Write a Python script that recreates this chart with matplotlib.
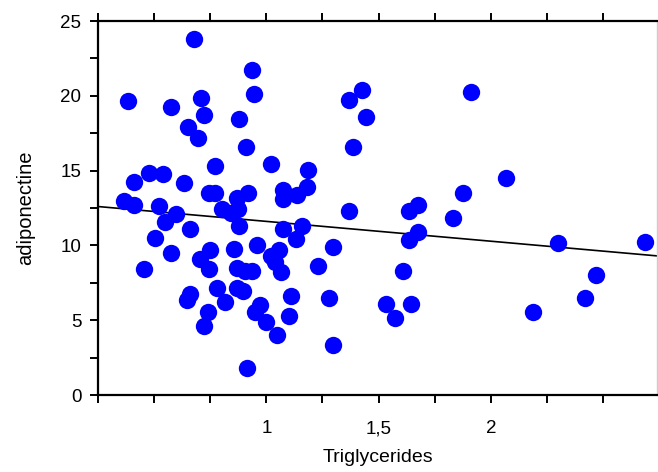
import numpy as np
import matplotlib
matplotlib.use("Agg")
import matplotlib.pyplot as plt
from matplotlib.ticker import MultipleLocator, FixedLocator, FixedFormatter

# data (triglycerides vs adiponectine)
trig = [0.385, 0.678, 0.937, 0.946, 0.574, 0.711, 0.720, 0.876, 0.652, 0.696,
        0.910, 0.771, 1.022, 1.186, 0.412, 0.479, 0.538, 0.634, 0.743, 0.770,
        0.367, 0.412, 0.523, 0.599, 0.549, 0.659, 0.506, 0.574, 0.454, 0.704,
        0.748, 0.743, 0.659, 0.647, 0.780, 0.814, 0.738, 0.721, 0.920, 0.870,
        1.074, 1.074, 1.137, 1.180, 0.801, 0.841, 0.872, 0.877, 1.074, 1.159,
        1.133, 1.295, 0.960, 0.857, 1.019, 1.056, 1.229, 0.867, 0.904, 0.938,
        1.037, 1.066, 0.867, 0.897, 0.948, 0.970, 0.997, 1.108, 1.100, 1.280,
        1.049, 1.295, 0.912, 1.428, 1.366, 1.446, 1.384, 1.910, 1.366, 1.634,
        1.674, 1.875, 1.833, 1.637, 1.676, 1.608, 1.531, 1.642, 1.572, 2.066,
        2.298, 2.685, 2.470, 2.419, 2.187]
adipo = [19.63, 23.80, 21.70, 20.14, 19.23, 19.87, 18.72, 18.45, 17.93, 17.16,
         16.58, 15.33, 15.44, 15.04, 14.26, 14.82, 14.79, 14.15, 13.50, 13.50,
         12.97, 12.70, 12.63, 12.08, 11.54, 11.08, 10.51, 9.51, 8.40, 9.09,
         9.66, 8.40, 6.75, 6.35, 7.13, 6.24, 5.57, 4.63, 13.52, 13.15,
         13.70, 13.08, 13.37, 13.92, 12.43, 12.17, 12.43, 11.30, 11.08, 11.32,
         10.41, 9.91, 10.03, 9.74, 9.31, 9.69, 8.60, 8.47, 8.31, 8.29,
         8.91, 8.24, 7.13, 6.97, 5.57, 6.02, 4.90, 6.62, 5.28, 6.46,
         3.99, 3.34, 1.78, 20.39, 19.72, 18.56, 16.60, 20.27, 12.32, 12.32,
         12.70, 13.48, 11.81, 10.36, 10.87, 8.29, 6.08, 6.08, 5.17, 14.53,
         10.14, 10.25, 8.02, 6.46, 5.57]

# regression line
fit_intercept = 12.93
fit_slope = -1.325

x_ticks = [0.25, 0.5, 0.75, 1.0, 1.25, 1.5, 1.75, 2.0, 2.25, 2.5]
x_ticklabels = ['', '', '', '1', '', '1,5', '', '2', '', '']

plt.rcParams['font.family'] = ['Liberation Sans', 'DejaVu Sans']

fig = plt.figure(figsize=(6.58, 4.72), dpi=100)
ax = fig.add_axes([98/658, 1-395/472, 559/658, 374/472])

ax.plot(trig, adipo, 'o', color='#0000ff', markersize=12.5, markeredgewidth=0, zorder=3)

xl = np.array([0.25, 2.74])
ax.plot(xl, fit_intercept + fit_slope*xl, color='black', lw=1.2, zorder=2)

ax.set_xlim(0.25, 2.74)
ax.set_ylim(0, 25)

ax.xaxis.set_major_locator(FixedLocator(x_ticks))
ax.xaxis.set_major_formatter(FixedFormatter(x_ticklabels))
ax.yaxis.set_major_locator(MultipleLocator(5))
ax.yaxis.set_minor_locator(MultipleLocator(2.5))

ax.tick_params(axis='x', which='both', top=True, bottom=True, direction='out',
               length=6, width=1.4, labelsize=13.5, pad=12)
ax.tick_params(axis='y', which='both', left=True, right=False, direction='out',
               length=6, width=1.4, labelsize=13.5, pad=6)

for s in ['left', 'bottom', 'top']:
    ax.spines[s].set_linewidth(1.6)
ax.spines['right'].set_color('#cccccc')
ax.spines['right'].set_linewidth(1)

ax.set_xlabel('Triglycerides', fontsize=14, labelpad=9)
ax.set_ylabel('adiponectine', fontsize=14.5, labelpad=18)

fig.savefig('out.png', dpi=100)
